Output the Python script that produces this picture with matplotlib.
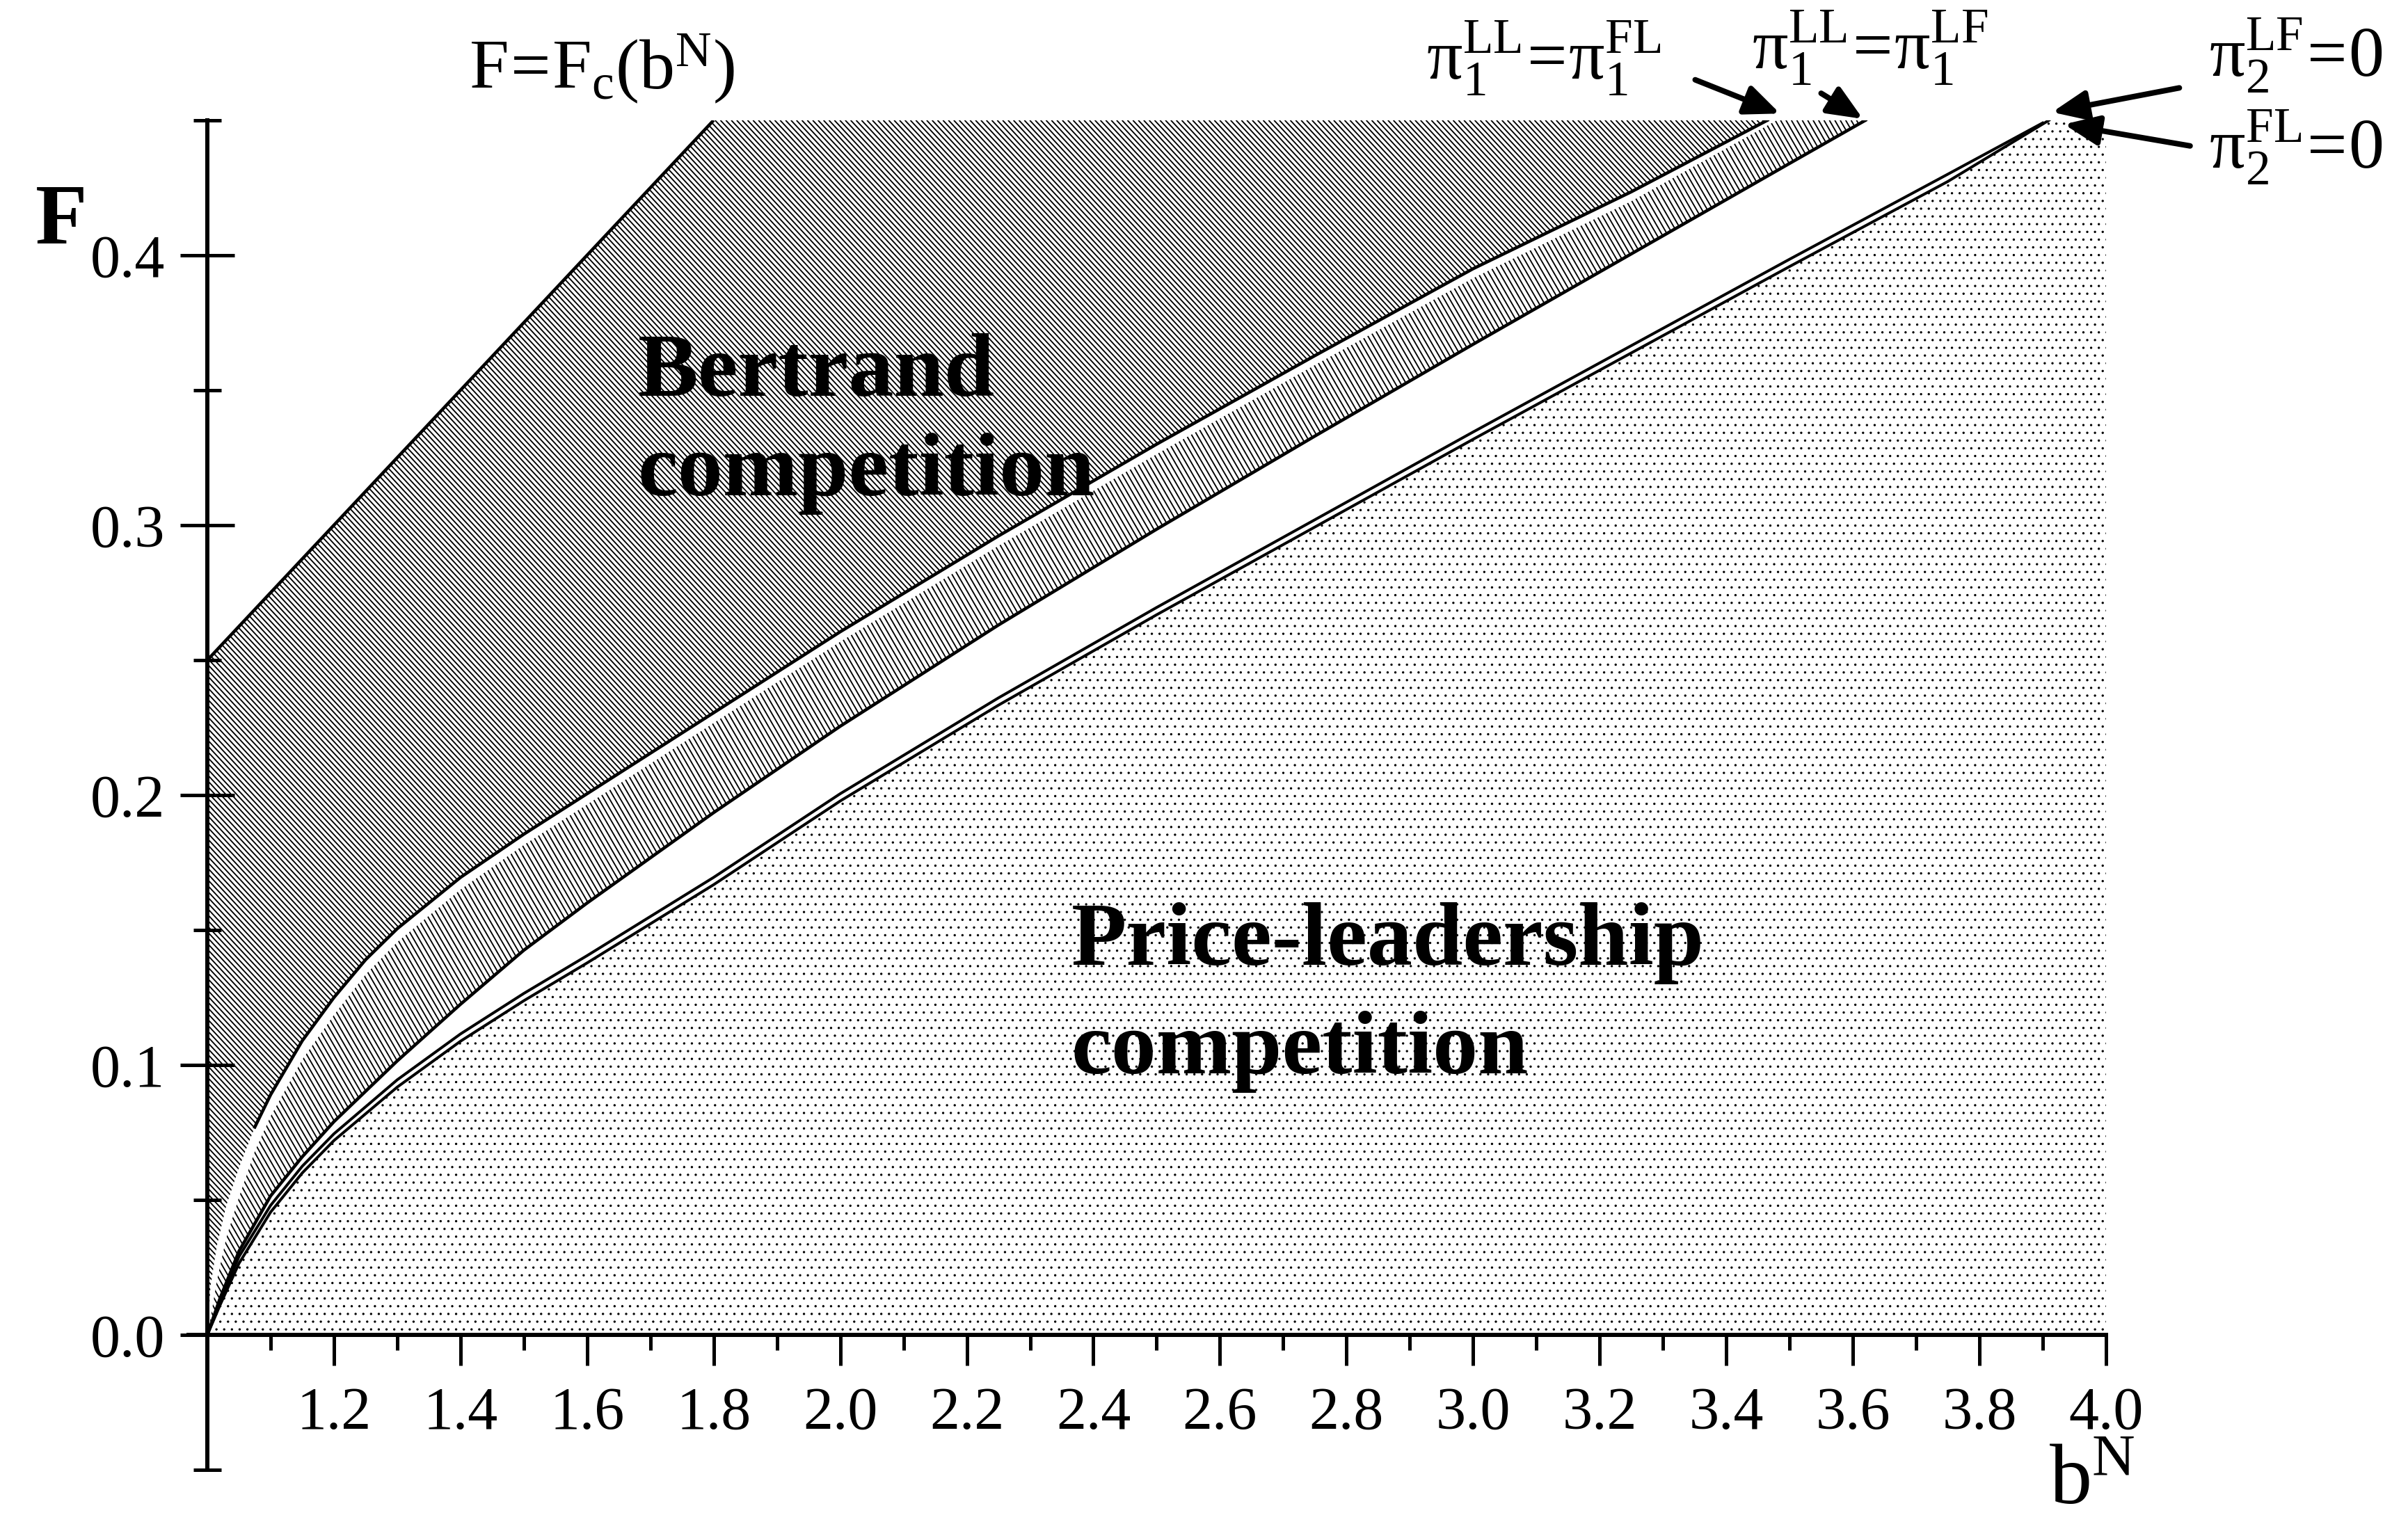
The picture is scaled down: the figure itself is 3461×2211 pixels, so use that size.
import numpy as np
import matplotlib
matplotlib.use("Agg")
import matplotlib.pyplot as plt
from matplotlib.collections import LineCollection
from matplotlib.ticker import FixedLocator, FixedFormatter

DPI = 200
def pt(px):
    return px * 72.0 / DPI

plt.rcParams['font.family'] = ['Liberation Serif', 'DejaVu Serif']
plt.rcParams['mathtext.fontset'] = 'custom'
plt.rcParams['mathtext.rm'] = 'Liberation Serif'
plt.rcParams['mathtext.it'] = 'Liberation Serif:italic'
plt.rcParams['mathtext.bf'] = 'Liberation Serif:bold'
plt.rcParams['hatch.linewidth'] = pt(1.1)

# ---------------- data ----------------
fc_b = [1.0, 1.8]
fc_F = [0.25, 0.45]

# pi1^LL = pi1^FL (black boundary of Bertrand region)
c1_b = [1.0, 1.005, 1.015, 1.03, 1.05, 1.075, 1.1, 1.15, 1.2, 1.25, 1.3, 1.4,
        1.5, 1.6, 1.8, 2.0, 2.25, 2.5, 2.75, 3.0, 3.25, 3.465]
c1_F = [0.0, 0.018, 0.033, 0.048, 0.062, 0.077, 0.089, 0.109, 0.125, 0.139,
        0.1505, 0.1695, 0.1855, 0.2005, 0.2305, 0.2605, 0.296, 0.330, 0.3628,
        0.395, 0.4235, 0.45]

# lower edge of the thin white strip under that boundary
c1w_b = [1.0, 1.005, 1.015, 1.03, 1.05, 1.075, 1.1, 1.15, 1.2, 1.25, 1.3, 1.4,
         1.5, 1.6, 1.8, 2.0, 2.25, 2.5, 2.75, 3.0, 3.25, 3.48]
c1w_F = [0.0, 0.006, 0.020, 0.036, 0.051, 0.068, 0.081, 0.102, 0.1185, 0.1335,
         0.1455, 0.165, 0.1815, 0.1965, 0.2267, 0.2568, 0.2923, 0.3263, 0.3593,
         0.3915, 0.420, 0.45]

# pi1^LL = pi1^LF
c2_b = [1.0, 1.02, 1.05, 1.1, 1.15, 1.2, 1.3, 1.4, 1.5, 1.6, 1.8, 2.0, 2.25,
        2.5, 2.75, 3.0, 3.25, 3.5, 3.62]
c2_F = [0.0, 0.0135, 0.031, 0.0515, 0.066, 0.079, 0.1015, 0.1225, 0.1425,
        0.160, 0.1935, 0.2255, 0.263, 0.2985, 0.333, 0.367, 0.4005, 0.434, 0.45]

# pi2^LF = 0
c3_b = [1.0, 1.02, 1.05, 1.1, 1.15, 1.2, 1.3, 1.4, 1.5, 1.6, 1.8, 2.0, 2.25,
        2.5, 2.75, 3.0, 3.25, 3.5, 3.75, 3.9]
c3_F = [0.0, 0.0125, 0.029, 0.048, 0.0625, 0.0745, 0.0945, 0.1115, 0.1265,
        0.1405, 0.1695, 0.2005, 0.236, 0.2695, 0.302, 0.3345, 0.3665, 0.3985,
        0.430, 0.449]

# pi2^FL = 0
c4_b = [1.0, 1.02, 1.05, 1.1, 1.15, 1.2, 1.3, 1.4, 1.5, 1.6, 1.8, 2.0, 2.25,
        2.5, 2.75, 3.0, 3.25, 3.5, 3.75, 3.91]
c4_F = [0.0, 0.0110, 0.0265, 0.0455, 0.060, 0.072, 0.0918, 0.1088, 0.1238,
        0.1378, 0.1668, 0.1978, 0.2333, 0.2668, 0.2993, 0.3318, 0.3638, 0.3958,
        0.4273, 0.45]

B_MIN, B_MAX = 1.0, 4.0
F_MIN, F_MAX = 0.0, 0.45

xtick_major = [1.2, 1.4, 1.6, 1.8, 2.0, 2.2, 2.4, 2.6, 2.8, 3.0, 3.2, 3.4,
               3.6, 3.8, 4.0]
xtick_labels = ['1.2', '1.4', '1.6', '1.8', '2.0', '2.2', '2.4', '2.6', '2.8',
                '3.0', '3.2', '3.4', '3.6', '3.8', '4.0']
xtick_minor = [1.1, 1.3, 1.5, 1.7, 1.9, 2.1, 2.3, 2.5, 2.7, 2.9, 3.1, 3.3,
               3.5, 3.7, 3.9]
ytick_major = [0.0, 0.1, 0.2, 0.3, 0.4]
ytick_labels = ['0.0', '0.1', '0.2', '0.3', '0.4']
ytick_minor = [-0.05, 0.05, 0.15, 0.25, 0.35, 0.45]

# ---------------- figure ----------------
fig = plt.figure(figsize=(17.31, 11.055), dpi=DPI)
ax_rect = [0.0782, 0.0443, 0.7961, 0.8775]
ax = fig.add_axes(ax_rect)
ax.set_xlim(0.97, 4.0)
ax.set_ylim(-0.05, 0.45)
W = 3462 * ax_rect[2]
H = 2211 * ax_rect[3]


def hatch_segments(angle_deg, spacing_px):
    run = H / np.tan(np.radians(angle_deg))
    starts = np.arange(-run - spacing_px, W + spacing_px, spacing_px)
    return [[(s / W, 1.0), ((s + run) / W, 0.0)] for s in starts]


# Bertrand region (dense diagonal hatch)
A_x = c1_b + [fc_b[1], fc_b[0]]
A_y = c1_F + [fc_F[1], fc_F[0]]
polyA = ax.fill(A_x, A_y, facecolor='none', edgecolor='none', lw=0)[0]
lcA = LineCollection(hatch_segments(47, 7.8), colors='black',
                     linewidths=pt(1.9), transform=ax.transAxes)
ax.add_collection(lcA, autolim=False)
lcA.set_clip_path(polyA)

# band between the two pi1 curves (steeper hatch)
B_x = c1w_b + c2_b[::-1]
B_y = c1w_F + c2_F[::-1]
polyB = ax.fill(B_x, B_y, facecolor='none', edgecolor='none', lw=0)[0]
lcB = LineCollection(hatch_segments(60, 7.8), colors='black',
                     linewidths=pt(1.9), transform=ax.transAxes)
ax.add_collection(lcB, autolim=False)
lcB.set_clip_path(polyB)

# price-leadership region (dots)
D_x = c4_b + [B_MAX, B_MAX]
D_y = c4_F + [F_MAX, F_MIN]
ax.fill(D_x, D_y, facecolor='white', edgecolor='black', hatch='...', lw=0)

# boundary curves
lw_c = pt(4.6)
ax.plot(fc_b, fc_F, color='black', lw=lw_c, solid_capstyle='butt')
c1b_arr = np.array(c1_b)
c1F_arr = np.array(c1_F)
m = c1b_arr >= 1.06
ax.plot(c1b_arr[m], c1F_arr[m], color='black', lw=lw_c)
ax.plot(c2_b, c2_F, color='black', lw=lw_c)
ax.plot(c3_b, c3_F, color='black', lw=pt(4.0))
ax.plot(c4_b, c4_F, color='black', lw=pt(4.0))

# axes styling
for s in ['top', 'right']:
    ax.spines[s].set_visible(False)
ax.spines['left'].set_position(('data', 1.0))
ax.spines['bottom'].set_position(('data', 0.0))
ax.spines['left'].set_linewidth(pt(6))
ax.spines['bottom'].set_linewidth(pt(6))

ax.xaxis.set_major_locator(FixedLocator(xtick_major))
ax.xaxis.set_major_formatter(FixedFormatter(xtick_labels))
ax.xaxis.set_minor_locator(FixedLocator(xtick_minor))
ax.yaxis.set_major_locator(FixedLocator(ytick_major))
ax.yaxis.set_major_formatter(FixedFormatter(ytick_labels))
ax.yaxis.set_minor_locator(FixedLocator(ytick_minor))

ax.tick_params(axis='x', which='major', direction='out', length=pt(44),
               width=pt(5), pad=pt(30), labelsize=pt(86))
ax.tick_params(axis='x', which='minor', direction='out', length=pt(22),
               width=pt(5))
ax.tick_params(axis='y', which='major', direction='inout', length=pt(78),
               width=pt(5), pad=pt(22), labelsize=pt(86))
ax.tick_params(axis='y', which='minor', direction='inout', length=pt(40),
               width=pt(5))

ax.set_ylabel('F', rotation=0, fontsize=pt(122), fontweight='bold')
ax.yaxis.set_label_coords(-0.0664, 0.924)
ax.yaxis.label.set_ha('center')
ax.yaxis.label.set_va('center')
ax.set_xlabel(r'$\mathrm{b^N}$', fontsize=pt(122))
ax.xaxis.set_label_coords(0.9928, -0.010)
ax.xaxis.label.set_va('center')
ax.xaxis.label.set_ha('center')

# region labels
big = pt(130)
ax.text(1.68, 0.348, 'Bertrand', fontsize=big, fontweight='bold',
        ha='left', va='baseline')
ax.text(1.68, 0.311, 'competition', fontsize=big, fontweight='bold',
        ha='left', va='baseline')
ax.text(2.365, 0.137, 'Price-leadership', fontsize=big, fontweight='bold',
        ha='left', va='baseline')
ax.text(2.365, 0.097, 'competition', fontsize=big, fontweight='bold',
        ha='left', va='baseline')

# curve labels
lab = pt(102)
ax.text(1.413, 0.4616, r'$\mathrm{F\!=\!F_c(b^N)}$', fontsize=lab,
        ha='left', va='baseline', clip_on=False)
ax.text(2.926, 0.465, r'$\mathrm{\pi_1^{LL}\!=\!\pi_1^{FL}}$', fontsize=lab,
        ha='left', va='baseline', clip_on=False)
ax.text(3.441, 0.469, r'$\mathrm{\pi_1^{LL}\!=\!\pi_1^{LF}}$', fontsize=lab,
        ha='left', va='baseline', clip_on=False)
ax.text(4.163, 0.466, r'$\mathrm{\pi_2^{LF}\!=\!0}$', fontsize=lab,
        ha='left', va='baseline', clip_on=False)
ax.text(4.163, 0.432, r'$\mathrm{\pi_2^{FL}\!=\!0}$', fontsize=lab,
        ha='left', va='baseline', clip_on=False)

arrow_tail_b = [3.351, 3.550, 4.116, 4.133]
arrow_tail_F = [0.465, 0.460, 0.462, 0.4405]
arrow_head_b = [3.485, 3.616, 3.915, 3.934]
arrow_head_F = [0.4525, 0.4505, 0.453, 0.4485]
for tb, tF, hb, hF in zip(arrow_tail_b, arrow_tail_F, arrow_head_b, arrow_head_F):
    ax.annotate('', xy=(hb, hF), xytext=(tb, tF), annotation_clip=False,
                arrowprops=dict(arrowstyle='-|>,head_length=0.7,head_width=0.3',
                                lw=pt(8), color='black', shrinkA=0, shrinkB=0,
                                mutation_scale=pt(60)))

fig.savefig('out.png', dpi=DPI, facecolor='white')
